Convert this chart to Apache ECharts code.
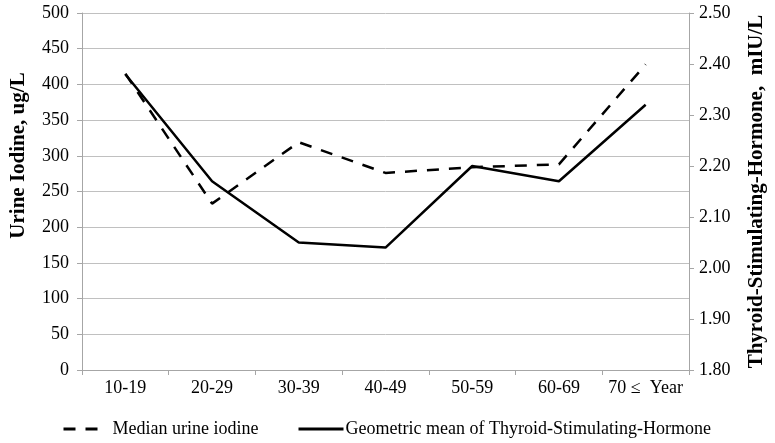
<!DOCTYPE html>
<html>
<head>
<meta charset="utf-8">
<script src="https://cdn.jsdelivr.net/npm/echarts@6/dist/echarts.min.js"></script>
<style>
html,body{margin:0;padding:0;background:#fff;}
#c{width:775px;height:443px;}
</style>
</head>
<body>
<div id="c"></div>
<script>
var categories = ['10-19', '20-29', '30-39', '40-49', '50-59', '60-69', '70 \u2264  Year'];
var iodine = [415, 233, 319, 276, 284, 288, 428];
var tsh = [2.38, 2.17, 2.05, 2.04, 2.20, 2.17, 2.32];
var leftTicks = {min: 0, max: 500, interval: 50};
var rightTicks = {min: 1.8, max: 2.5, interval: 0.1};
var seriesNames = ['Median urine iodine', 'Geometric mean of Thyroid-Stimulating-Hormone'];
var axisNames = ['Urine Iodine, ug/L', 'Thyroid-Stimulating-Hormone,  mIU/L'];

var FONT = "'Liberation Serif', 'Times New Roman', serif";
var chart = echarts.init(document.getElementById('c'), null, {renderer: 'canvas'});
var axisGrey = '#a6a6a6';
var gridGrey = '#c0c0c0';
var hiddenSymbol = {color: 'rgba(0,0,0,0)', borderWidth: 0, opacity: 0};
chart.setOption({
  animation: false,
  backgroundColor: '#ffffff',
  textStyle: {fontFamily: FONT, color: '#000'},
  grid: {left: 77, right: 85, top: 13, bottom: 73, containLabel: false},
  legend: [{
    data: [seriesNames[0]],
    left: 57, top: 415,
    itemWidth: 34, itemHeight: 14,
    itemStyle: hiddenSymbol,
    lineStyle: {width: 3, type: [12, 10], color: '#000'},
    textStyle: {fontFamily: FONT, fontSize: 18, color: '#000', padding: [0, 0, 0, 10]}
  }, {
    data: [seriesNames[1]],
    left: 292, top: 415,
    itemWidth: 45, itemHeight: 14,
    itemStyle: hiddenSymbol,
    lineStyle: {width: 3, type: 'solid', color: '#000'},
    textStyle: {fontFamily: FONT, fontSize: 18, color: '#000', padding: [0, 0, 0, -3]}
  }],
  xAxis: {
    type: 'category',
    data: categories,
    boundaryGap: true,
    axisLine: {lineStyle: {color: axisGrey, width: 1}},
    axisTick: {show: true, alignWithLabel: false, interval: 0, length: 5, lineStyle: {color: axisGrey}},
    axisLabel: {fontFamily: FONT, fontSize: 18, color: '#000', margin: 9, interval: 0},
    splitLine: {show: false}
  },
  yAxis: [{
    type: 'value',
    min: leftTicks.min, max: leftTicks.max, interval: leftTicks.interval,
    name: axisNames[0],
    nameLocation: 'middle',
    nameGap: 53,
    nameTextStyle: {fontFamily: FONT, fontSize: 21, fontWeight: 'bold', color: '#000', padding: [0, 0, 0, 72]},
    axisLine: {show: true, lineStyle: {color: axisGrey, width: 1}},
    axisTick: {show: true, length: 5, lineStyle: {color: axisGrey}},
    axisLabel: {fontFamily: FONT, fontSize: 18, color: '#000', margin: 13},
    splitLine: {show: true, lineStyle: {color: gridGrey, width: 1}}
  }, {
    type: 'value',
    position: 'right',
    min: rightTicks.min, max: rightTicks.max, interval: rightTicks.interval,
    name: axisNames[1],
    nameLocation: 'middle',
    nameGap: 57,
    nameRotate: 90,
    nameTextStyle: {fontFamily: FONT, fontSize: 21, fontWeight: 'bold', color: '#000'},
    axisLine: {show: true, lineStyle: {color: axisGrey, width: 1}},
    axisTick: {show: true, length: 5, lineStyle: {color: axisGrey}},
    axisLabel: {fontFamily: FONT, fontSize: 18, color: '#000', margin: 10,
      formatter: function (v) { return v.toFixed(2); }},
    splitLine: {show: false}
  }],
  series: [{
    name: seriesNames[0],
    type: 'line',
    yAxisIndex: 0,
    data: iodine,
    showSymbol: false,
    symbol: 'none',
    color: '#000',
    lineStyle: {color: '#000', width: 2.5, type: [12, 10], cap: 'butt'}
  }, {
    name: seriesNames[1],
    type: 'line',
    yAxisIndex: 1,
    data: tsh,
    showSymbol: false,
    symbol: 'none',
    color: '#000',
    lineStyle: {color: '#000', width: 2.5, type: 'solid'}
  }]
});
</script>
</body>
</html>
